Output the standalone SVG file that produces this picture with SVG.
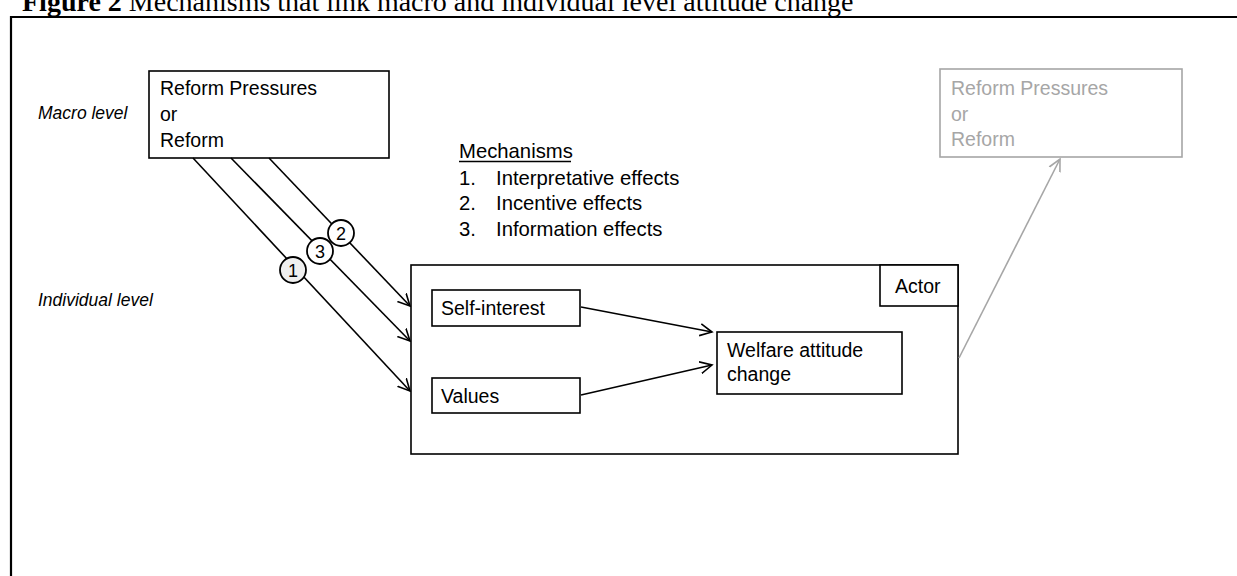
<svg xmlns="http://www.w3.org/2000/svg" width="1237" height="576" viewBox="0 0 1237 576">
<style>
  .t{font-family:"Liberation Sans",Arial,sans-serif;font-size:19.5px;fill:#000}
  .m{font-family:"Liberation Sans",Arial,sans-serif;font-size:20.3px;fill:#000}
  .ti{font-family:"Liberation Sans",Arial,sans-serif;font-size:17.5px;font-style:italic;fill:#000}
  .g{font-family:"Liberation Sans",Arial,sans-serif;font-size:19.5px;fill:#a6a6a6}
  .box{fill:#fff;stroke:#000;stroke-width:1.6}
  .gbox{fill:#fff;stroke:#a6a6a6;stroke-width:1.6}
  .ln{stroke:#000;stroke-width:1.6;fill:none}
  .num{font-family:"Liberation Sans",Arial,sans-serif;font-size:18px;fill:#000;text-anchor:middle}
</style>
<defs>
  <marker id="ah" markerUnits="userSpaceOnUse" markerWidth="14" markerHeight="14" refX="12" refY="6" orient="auto" viewBox="0 0 14 12">
    <path d="M0,0 L12,6 L0,12" fill="none" stroke="#000" stroke-width="1.6"/>
  </marker>
  <marker id="ahg" markerUnits="userSpaceOnUse" markerWidth="14" markerHeight="14" refX="12" refY="6" orient="auto" viewBox="0 0 14 12">
    <path d="M0,0 L12,6 L0,12" fill="none" stroke="#a6a6a6" stroke-width="1.6"/>
  </marker>
</defs>
<rect width="1237" height="576" fill="#fff"/>

<g id="title">
  <text x="22" y="11" font-family="'Liberation Serif','Times New Roman',serif" font-size="28px" fill="#000"><tspan font-weight="bold">Figure 2</tspan> Mechanisms that link macro and individual level attitude change</text>
</g>
<g id="frame">
  <path d="M11,576 L11,17 L1237,17" fill="none" stroke="#000" stroke-width="2.2"/>
</g>

<g id="labels">
  <text class="ti" x="38" y="119">Macro level</text>
  <text class="ti" x="38" y="306">Individual level</text>
</g>

<g id="mechanisms">
  <text class="m" x="459" y="158">Mechanisms</text>
  <line x1="459" y1="161.5" x2="571" y2="161.5" stroke="#000" stroke-width="1.5"/>
  <text class="m" x="459" y="185">1.</text><text class="m" x="496" y="185">Interpretative effects</text>
  <text class="m" x="459" y="210">2.</text><text class="m" x="496" y="210">Incentive effects</text>
  <text class="m" x="459" y="236">3.</text><text class="m" x="496" y="236">Information effects</text>
</g>

<g id="actor">
  <rect class="box" x="411" y="265" width="547" height="189" stroke-width="2"/>
  <rect class="box" x="880" y="265" width="78" height="41"/>
  <text class="t" x="895" y="293">Actor</text>
</g>

<g id="reform">
  <rect class="box" x="149" y="71" width="240" height="87"/>
  <text class="t" x="160" y="95">Reform Pressures</text>
  <text class="t" x="160" y="121">or</text>
  <text class="t" x="160" y="147">Reform</text>
</g>

<g id="reform-future">
  <rect class="gbox" x="940" y="69" width="242" height="88"/>
  <text class="g" x="951" y="95">Reform Pressures</text>
  <text class="g" x="951" y="121">or</text>
  <text class="g" x="951" y="146">Reform</text>
</g>

<g id="self-interest">
  <rect class="box" x="432" y="290" width="148" height="36"/>
  <text class="t" x="441" y="315">Self-interest</text>
</g>

<g id="values">
  <rect class="box" x="432" y="378" width="148" height="35"/>
  <text class="t" x="441" y="403">Values</text>
</g>

<g id="welfare">
  <rect class="box" x="717" y="332" width="185" height="62"/>
  <text class="t" x="727" y="357">Welfare attitude</text>
  <text class="t" x="727" y="381">change</text>
</g>

<g id="connectors">
  <line class="ln" x1="269" y1="158" x2="410" y2="306" marker-end="url(#ah)"/>
  <line class="ln" x1="231" y1="158" x2="410" y2="341" marker-end="url(#ah)"/>
  <line class="ln" x1="193" y1="158" x2="410" y2="391" marker-end="url(#ah)"/>
  <line class="ln" x1="581" y1="307" x2="712" y2="332" marker-end="url(#ah)"/>
  <line class="ln" x1="581" y1="395" x2="712" y2="365" marker-end="url(#ah)"/>
  <line x1="959" y1="358" x2="1060" y2="159" stroke="#a6a6a6" stroke-width="1.6" marker-end="url(#ahg)"/>
</g>

<g id="badge-2">
  <circle cx="341" cy="233" r="13" fill="#fff" stroke="#000" stroke-width="1.8"/>
  <text class="num" x="341" y="239.5">2</text>
</g>
<g id="badge-3">
  <circle cx="320" cy="251" r="13" fill="#fff" stroke="#000" stroke-width="1.8"/>
  <text class="num" x="320" y="257.5">3</text>
</g>
<g id="badge-1">
  <circle cx="293" cy="270" r="13" fill="#efefef" stroke="#000" stroke-width="1.8"/>
  <text class="num" x="293" y="276.5">1</text>
</g>
</svg>
